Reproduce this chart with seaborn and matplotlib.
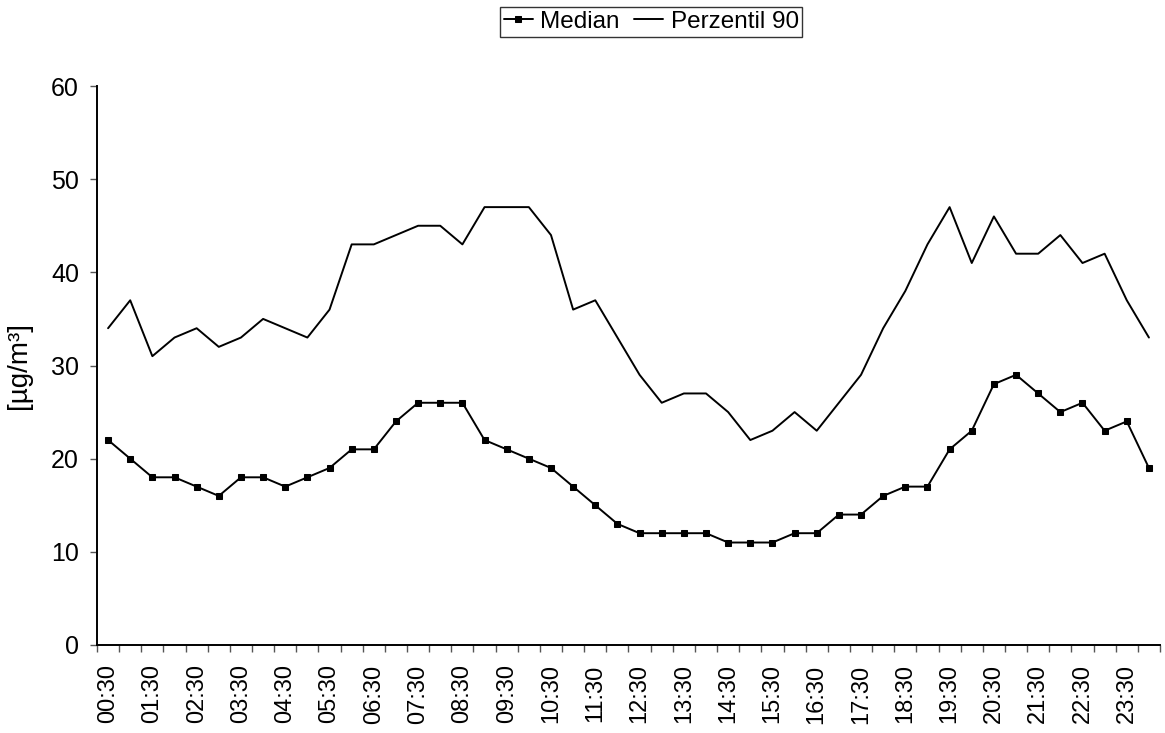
import matplotlib
matplotlib.use('Agg')
import matplotlib.pyplot as plt
import matplotlib.ticker as tick
import seaborn as sns
import pandas as pd

# half-hourly times, 00:30 .. 24:00
times = [f'{(m // 60):02d}:{(m % 60):02d}' for m in range(30, 24 * 60 + 1, 30)]

median = [22, 20, 18, 18, 17, 16, 18, 18, 17, 18, 19, 21,
          21, 24, 26, 26, 26, 22, 21, 20, 19, 17, 15, 13,
          12, 12, 12, 12, 11, 11, 11, 12, 12, 14, 14, 16,
          17, 17, 21, 23, 28, 29, 27, 25, 26, 23, 24, 19]

perzentil_90 = [34, 37, 31, 33, 34, 32, 33, 35, 34, 33, 36, 43,
                43, 44, 45, 45, 43, 47, 47, 47, 44, 36, 37, 33,
                29, 26, 27, 27, 25, 22, 23, 25, 23, 26, 29, 34,
                38, 43, 47, 41, 46, 42, 42, 44, 41, 42, 37, 33]

df = pd.DataFrame({'idx': range(len(times)), 'time': times,
                   'Median': median, 'Perzentil 90': perzentil_90})

sns.set_style('white')
plt.rcParams['font.family'] = ['Liberation Sans', 'DejaVu Sans']
plt.rcParams['text.color'] = 'black'
plt.rcParams['xtick.color'] = 'black'
plt.rcParams['ytick.color'] = 'black'
plt.rcParams['axes.labelcolor'] = 'black'

fig = plt.figure(figsize=(11.65, 7.33), dpi=100)
ax = fig.add_axes([97 / 1165, 1 - 645 / 733, (1160 - 97) / 1165, (645 - 86) / 733])

sns.lineplot(data=df, x='idx', y='Median', ax=ax, color='black', linewidth=1.4,
             marker='s', markersize=4.8, markeredgecolor='black', label='Median')
sns.lineplot(data=df, x='idx', y='Perzentil 90', ax=ax, color='black', linewidth=1.4,
             label='Perzentil 90')

ax.set_xlim(-0.5, len(times) - 0.5)
ax.set_ylim(0, 60)
ax.set_yticks(range(0, 61, 10))
ax.tick_params(axis='y', labelsize=18, length=5, width=1, color='#555555',
               direction='out', left=True, pad=8, labelcolor='black')

ax.set_xticks(range(0, len(times), 2))
ax.set_xticklabels(times[::2], rotation=90, fontsize=17)
ax.xaxis.set_minor_locator(tick.FixedLocator([i - 0.5 for i in range(len(times) + 1)]))
ax.tick_params(axis='x', which='major', length=0, pad=14, labelcolor='black')
ax.tick_params(axis='x', which='minor', length=5, width=1, color='#555555', direction='out', bottom=True)

ax.set_xlabel('')
ax.set_ylabel('[µg/m³]', fontsize=20, labelpad=14)

for s in ['top', 'right']:
    ax.spines[s].set_visible(False)
for s in ['left', 'bottom']:
    ax.spines[s].set_color('black')
    ax.spines[s].set_linewidth(1.4)

handles, labels = ax.get_legend_handles_labels()
ax.get_legend().remove()
leg = fig.legend(handles, labels, loc='center', bbox_to_anchor=(0.559, 0.97), ncol=2,
                 fontsize=17.5, frameon=True, fancybox=False, edgecolor='black',
                 handlelength=1.2, handletextpad=0.3, columnspacing=0.6,
                 borderpad=0.15, borderaxespad=0)
leg.get_frame().set_linewidth(1.0)

fig.savefig('out.png', dpi=100)
